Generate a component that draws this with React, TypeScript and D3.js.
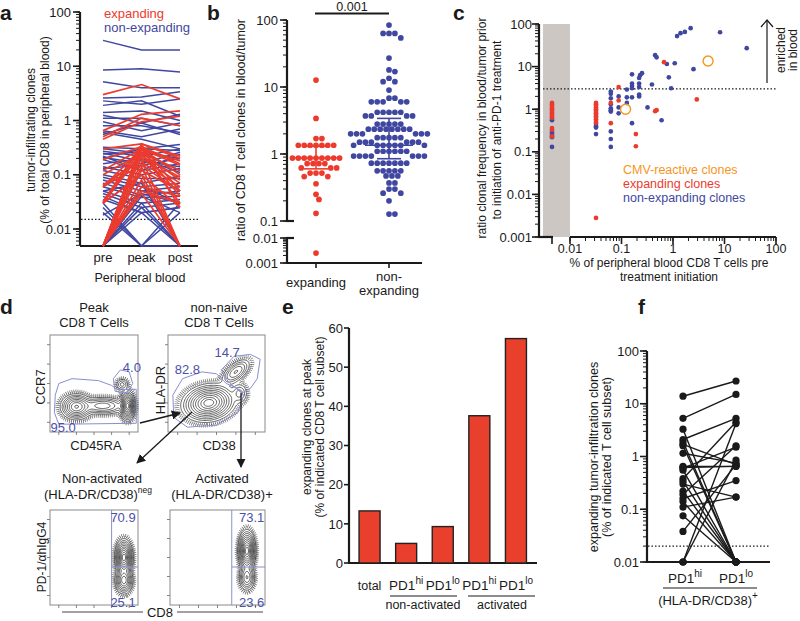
import React from 'react';
import * as d3 from 'd3';

const RED = '#ec3b2d';
const BLUE = '#3f47a0';
const ORANGE = '#f7941d';
const GATE = '#8a8ed0';
const NUMBLUE = '#4b50a8';
const INK = '#1a1a1a';
const FONT = 'Liberation Sans, Arial, Helvetica, sans-serif';

// ---------------- Panel a ----------------
const aTimepoints = ['pre', 'peak', 'post'];
const aTicks = [0.01, 0.1, 1, 10, 100];
const aThreshold = 0.015;
const aLegend = ['expanding', 'non-expanding'];
// [pre, peak, post]; 0 = not detected
const aBlue: number[][] = [
  [30, 20, 20], [8.5, 9, 7.8], [5.2, 4, 4], [2.6, 2.7, 3.4], [2.3, 2.0, 2.5], [1.9, 2.3, 1.2],
  [1.4, 1.5, 1.0], [1.25, 0.9, 1.3], [1.1, 1.1, 0.8], [0.95, 0.65, 0.9], [0.8, 0.8, 0.6],
  [0.65, 0.5, 0.7], [0.55, 0.9, 0.55], [0.32, 0.3, 0.36], [0.27, 0.22, 0.3], [0.24, 0.26, 0.2],
  [0.21, 0.16, 0.26], [0.19, 0.12, 0.16], [0.16, 0.2, 0.11], [0.14, 0.1, 0.13], [0.12, 0.085, 0.085],
  [0.1, 0.07, 0.095], [0.09, 0.06, 0.07], [0.08, 0.05, 0.06], [0.07, 0.042, 0.05], [0.06, 0.038, 0.04],
  [0.05, 0.03, 0.035], [0.045, 0.025, 0.03], [0.035, 0.02, 0.025], [0.03, 0, 0.02], [0, 0.03, 0],
  [0, 0.02, 0.025], [0.02, 0, 0.03], [0, 0.04, 0.02], [0.025, 0, 0], [0, 0.025, 0], [0.04, 0.02, 0],
  [0, 0.05, 0.045], [0.05, 0.07, 0], [0.22, 0.12, 0.24], [0.13, 0.15, 0.2], [0.6, 0.45, 0.3],
  [0.3, 0.25, 0.12], [0.018, 0.045, 0.03], [0, 0.06, 0.03], [0.2, 0.3, 0.28], [0.25, 0.18, 0.14],
];
const aRed: number[][] = [
  [3, 4.6, 2.5], [0.65, 1.3, 1.5], [0.5, 1.1, 0.8], [0.45, 0.95, 1.2], [0.3, 0.37, 0.22],
  [0.19, 0.33, 0.16], [0.12, 0.3, 0.1], [0.1, 0.25, 0.08], [0.065, 0.2, 0.07], [0.06, 0.15, 0.05],
  [0.06, 0.3, 0.04], [0.032, 0.35, 0.05], [0.03, 0.25, 0.03], [0.03, 0.1, 0.025], [0, 0.37, 0.2],
  [0, 0.3, 0.15], [0, 0.26, 0.12], [0, 0.22, 0.09], [0, 0.17, 0.06], [0, 0.12, 0.05], [0, 0.08, 0],
  [0, 0.06, 0.04], [0, 0.05, 0.03], [0, 0.32, 0.025], [0, 0.14, 0], [0.06, 0.2, 0], [0.03, 0.1, 0],
  [0.03, 0.3, 0.18], [0, 0.045, 0],
];

// ---------------- Panel b ----------------
const bGroups = ['expanding', 'non-expanding'];
const bTicksUpper = [0.1, 1, 10, 100];
const bTicksLower = [0.001, 0.01];
const bPValue = '0.001';
const bExpanding = [
  12.7, 3.4, 1.7, 1.7, 1.35, 1.35, 1.35, 1.35, 1.35, 1.35, 1.35, 0.87, 0.87, 0.87, 0.87, 0.87, 0.87,
  0.87, 0.87, 0.87, 0.72, 0.72, 0.72, 0.72, 0.62, 0.62, 0.62, 0.52, 0.52, 0.52, 0.46, 0.46, 0.36,
  0.25, 0.21, 0.13, 0.0025,
];
const bNonExpanding = [
  84, 63, 63, 63, 54, 27, 18, 17, 13.5, 12, 12, 9, 6.8, 6.8, 6, 6, 6, 6, 6, 4.2, 4.2, 4.2, 4.2, 4.2,
  3.7, 3.7, 3.7, 3.7, 2.8, 2.8, 2.8, 2.8, 2.8, 2.35, 2.35, 2.35, 2.35, 2.35, 2.35, 2.35, 2.35,
  2.0, 2.0, 2.0, 2.0, 2.0, 2.0, 1.75, 1.75, 1.75, 1.75, 1.75, 1.5, 1.5, 1.5, 1.5, 1.5, 1.5,
  1.35, 1.35, 1.35, 1.35, 1.35, 1.35, 1.35, 1.1, 1.1, 1.1, 1.1, 1.1, 1.1, 0.93, 0.93, 0.93, 0.93,
  0.93, 0.93, 0.93, 0.73, 0.73, 0.73, 0.73, 0.73, 0.73, 0.73, 0.56, 0.56, 0.56, 0.56, 0.56, 0.47,
  0.47, 0.47, 0.37, 0.37, 0.3, 0.3, 0.26, 0.26, 0.2, 0.127, 0.127,
];
// [q1, median, q3]
const bSummary = [
  [0.6, 0.87, 1.3],
  [0.85, 1.35, 3.4],
];

// ---------------- Panel c ----------------
const cXTicks = [0.01, 0.1, 1, 10, 100];
const cYTicks = [0.001, 0.01, 0.1, 1, 10, 100];
const cThreshold = 3;
const cLegend = ['CMV-reactive clones', 'expanding clones', 'non-expanding clones'];
// [pre-treatment % of blood CD8 (0 = not detected), blood/tumor ratio]
const cBlue: number[][] = [
  [0, 0.6], [0, 0.55], [0, 0.3], [0, 0.27], [0, 0.24], [0, 0.22], [0, 0.13],
  [0.032, 0.45], [0.032, 0.4], [0.032, 0.37], [0.032, 0.26],
  [0.062, 2.6], [0.062, 2.3], [0.062, 1.8], [0.062, 1.3], [0.062, 1.05], [0.062, 0.95], [0.062, 0.88],
  [0.062, 0.3], [0.062, 0.2], [0.062, 0.13],
  [0.088, 2.0], [0.088, 1.1], [0.088, 0.8], [0.127, 2.9], [0.127, 1.9], [0.127, 1.4],
  [0.16, 6.6], [0.16, 4.0], [0.16, 3.5], [0.16, 3.1], [0.16, 1.9], [0.16, 0.47],
  [0.22, 5.4], [0.23, 6.3], [0.25, 7.0], [0.22, 4.0], [0.22, 3.3], [0.22, 2.0], [0.22, 2.2],
  [0.39, 3.8], [0.32, 1.1], [0.45, 18.5], [0.48, 16.5], [0.6, 0.55], [0.76, 11.5], [0.83, 5.6],
  [0.92, 3.1], [1.08, 12], [1.2, 52], [1.4, 61], [1.7, 65], [2.2, 80], [2.5, 8.7], [8.2, 64], [27, 27],
];
const cRed: number[][] = [
  [0, 1.4], [0, 1.3], [0, 1.2], [0, 1.1], [0, 1.0], [0, 0.93], [0, 0.86], [0, 0.8], [0, 0.74],
  [0, 0.68], [0, 0.63], [0, 0.36], [0, 0.33], [0, 0.23],
  [0.032, 1.4], [0.032, 1.3], [0.032, 1.2], [0.032, 1.1], [0.032, 1.0], [0.032, 0.93], [0.032, 0.86],
  [0.032, 0.8], [0.032, 0.74], [0.032, 0.68], [0.032, 0.63], [0.032, 0.58], [0.032, 0.53], [0.032, 0.48],
  [0.032, 0.0028], [0.062, 1.4], [0.062, 0.47], [0.088, 3.3], [0.088, 1.6], [0.19, 0.26], [0.19, 0.135],
  [0.45, 0.9], [0.48, 0.95], [0.67, 12.7], [2.9, 1.7],
];
const cCMV: number[][] = [[0.12, 1.0], [4.8, 13.5]];

// ---------------- Panel d (flow cytometry) ----------------
// gaussian populations [cx, cy, sx, sy, rotationDeg, weight] in fractional plot coords
const dPopulations: number[][][] = [
  [[0.3, 0.74, 0.075, 0.055, 0, 1.0], [0.88, 0.73, 0.035, 0.06, 0, 1.6], [0.6, 0.73, 0.12, 0.04, 0, 0.5], [0.82, 0.51, 0.035, 0.03, 0, 0.2]],
  [[0.42, 0.7, 0.11, 0.075, -10, 1.0], [0.7, 0.38, 0.08, 0.04, -40, 0.25], [0.74, 0.6, 0.04, 0.05, 0, 0.12]],
  [[0.84, 0.5, 0.04, 0.075, 0, 1.0], [0.84, 0.74, 0.042, 0.06, 0, 0.55]],
  [[0.81, 0.43, 0.036, 0.085, 0, 1.0], [0.81, 0.71, 0.036, 0.06, 0, 0.35]],
];
const dGates: number[][][][] = [
  [
    [[0.06, 0.62], [0.1, 0.5], [0.25, 0.45], [0.55, 0.47], [0.7, 0.52], [0.76, 0.56], [0.98, 0.56], [0.98, 0.91], [0.1, 0.92], [0.05, 0.8]],
    [[0.72, 0.45], [0.8, 0.36], [0.9, 0.38], [0.94, 0.5], [0.87, 0.6], [0.74, 0.58]],
  ],
  [
    [[0.05, 0.62], [0.15, 0.45], [0.35, 0.38], [0.5, 0.4], [0.6, 0.5], [0.72, 0.55], [0.78, 0.62], [0.72, 0.8], [0.5, 0.93], [0.2, 0.95], [0.06, 0.85]],
    [[0.55, 0.36], [0.68, 0.22], [0.85, 0.2], [0.95, 0.25], [0.92, 0.45], [0.85, 0.55], [0.76, 0.6], [0.62, 0.48]],
  ],
  [[[0.7, 0], [0.7, 1]], [[0.7, 0.6], [1, 0.6]]],
  [[[0.65, 0], [0.65, 1]], [[0.65, 0.6], [1, 0.6]]],
];
const dGateValues = [['95.0', '4.0'], ['82.8', '14.7'], ['70.9', '25.1'], ['73.1', '23.6']];

// ---------------- Panel e ----------------
const eCategories = ['total', 'PD1hi-nonact', 'PD1lo-nonact', 'PD1hi-act', 'PD1lo-act'];
const eValues = [13.3, 5.0, 9.3, 37.6, 57.3];
const eTicks = [0, 10, 20, 30, 40, 50, 60];

// ---------------- Panel f ----------------
const fGroups = ['PD1hi', 'PD1lo'];
const fTicks = [0.01, 0.1, 1, 10, 100];
const fThreshold = 0.02;
const fHi = [13.9, 5.3, 3.3, 2.1, 1.9, 1.7, 1.6, 1.15, 0.65, 0.62, 0.6, 0.55, 0.38, 0.34, 0.3, 0.22, 0.19, 0.16, 0.14, 0.11, 0.075, 0.038, 0, 0, 0];
const fLo = [27, 15, 0, 5.3, 0, 0.7, 0, 0.75, 0.65, 0.65, 1.5, 0, 4.5, 0, 0.17, 0, 1.6, 0.35, 0, 0.17, 0, 0.7, 4.2, 0.85, 0];

// ---------------- helpers ----------------
function logRange(lo: number, hi: number): number[] {
  const out: number[] = [];
  for (let e = Math.floor(Math.log10(lo)) - 1; e <= Math.ceil(Math.log10(hi)); e++) {
    for (let m = 1; m < 10; m++) {
      const v = +(m * Math.pow(10, e)).toPrecision(6);
      if (v >= lo * 0.9999 && v <= hi * 1.0001) out.push(v);
    }
  }
  return out;
}

function swarm(ys: number[], d: number): number[] {
  const order = ys.map((_, i) => i).sort((a, b) => ys[a] - ys[b]);
  const placed: { x: number; y: number }[] = [];
  const xs = new Array(ys.length).fill(0);
  const cands: number[] = [0];
  for (let k = 1; k < 40; k++) { cands.push(k * d * 0.5, -k * d * 0.5); }
  for (const i of order) {
    const y = ys[i];
    for (const c of cands) {
      let ok = true;
      for (const p of placed) {
        const dx = p.x - c, dy = p.y - y;
        if (dx * dx + dy * dy < d * d * 0.98) { ok = false; break; }
      }
      if (ok) { xs[i] = c; placed.push({ x: c, y }); break; }
    }
  }
  return xs;
}

function LogYAxis(props: { scale: (v: number) => number; x: number; lo: number; hi: number; ticks: number[]; fontSize: number; labelGap: number }) {
  const { scale, x, lo, hi, ticks, fontSize, labelGap } = props;
  const minors = logRange(lo, hi);
  return (
    <g>
      {minors.map((v, i) => (
        <line key={'m' + i} x1={x - 4} x2={x} y1={scale(v)} y2={scale(v)} stroke={INK} strokeWidth={1} />
      ))}
      {ticks.map((v, i) => (
        <g key={'t' + i}>
          <line x1={x - 7} x2={x} y1={scale(v)} y2={scale(v)} stroke={INK} strokeWidth={1.6} />
          <text x={x - labelGap} y={scale(v) + fontSize * 0.36} textAnchor="end" fontSize={fontSize}>{String(v)}</text>
        </g>
      ))}
      <line x1={x} x2={x} y1={scale(lo)} y2={scale(hi)} stroke={INK} strokeWidth={2.2} />
    </g>
  );
}

function RotText(props: { x: number; y: number; size: number; children: any; fill?: string }) {
  return (
    <text transform={`translate(${props.x},${props.y}) rotate(-90)`} textAnchor="middle" fontSize={props.size} fill={props.fill || INK}>
      {props.children}
    </text>
  );
}

function FlowPlot(props: { x: number; y: number; w: number; h: number; pops: number[][]; gates: number[][][]; closed: boolean }) {
  const { x, y, w, h, pops, gates, closed } = props;
  const nx = 80, ny = 80;
  const values = new Array(nx * ny).fill(0);
  for (let j = 0; j < ny; j++) {
    for (let i = 0; i < nx; i++) {
      const u = (i + 0.5) / nx, v = (j + 0.5) / ny;
      let s = 0;
      for (const p of pops) {
        const [cx, cy, sx, sy, rot, wt] = p;
        const a = (rot * Math.PI) / 180;
        const dx = u - cx, dy = v - cy;
        const rx = dx * Math.cos(a) + dy * Math.sin(a);
        const ry = -dx * Math.sin(a) + dy * Math.cos(a);
        s += wt * Math.exp(-0.5 * ((rx / sx) ** 2 + (ry / sy) ** 2));
      }
      values[i + j * nx] = s;
    }
  }
  const mx = d3.max(values) as number;
  const levels = [0.03, 0.06, 0.1, 0.16, 0.24, 0.34, 0.46, 0.6, 0.76, 0.9].map((f) => f * mx);
  const rim = [0.008, 0.016].map((f) => f * mx);
  const proj = d3.geoTransform({
    point(px: number, py: number) { (this as any).stream.point(x + (px / nx) * w, y + (py / ny) * h); },
  });
  const path = d3.geoPath(proj as any);
  const cont = d3.contours().size([nx, ny]).thresholds(levels)(values);
  const rims = d3.contours().size([nx, ny]).thresholds(rim)(values);
  const tickFr = [0.1, 0.3, 0.5, 0.7, 0.9];
  return (
    <g>
      <rect x={x} y={y} width={w} height={h} fill="white" stroke="#8a8a8a" strokeWidth={1} />
      {rims.map((c, i) => (
        <path key={'r' + i} d={path(c as any) || ''} fill="none" stroke="#555" strokeWidth={i === 0 ? 3 : 2.2} strokeDasharray="0.7 1.3" opacity={0.85} />
      ))}
      {cont.map((c, i) => (
        <path key={'c' + i} d={path(c as any) || ''} fill="none" stroke="#111" strokeWidth={0.65} />
      ))}
      {gates.map((g, i) => {
        const pts = g.map((p) => [x + p[0] * w, y + p[1] * h]) as [number, number][];
        const line = closed ? d3.line().curve(d3.curveLinearClosed)(pts) : d3.line()(pts);
        return <path key={'g' + i} d={line || ''} fill="none" stroke={GATE} strokeWidth={1} />;
      })}
      {tickFr.map((f, i) => (
        <g key={'tk' + i}>
          <line x1={x - 3} x2={x} y1={y + f * h} y2={y + f * h} stroke="#666" strokeWidth={0.8} />
          <line x1={x + f * w} x2={x + f * w} y1={y + h} y2={y + h + 3} stroke="#666" strokeWidth={0.8} />
        </g>
      ))}
    </g>
  );
}

export default function App() {
  // ---- panel a scales
  const aY = d3.scaleLog().domain([0.00486, 100]).range([246, 12]);
  const aFloor = 0.00486;
  const aYv = (v: number) => aY(v > 0 ? v : aFloor);
  const aX = d3.scalePoint<string>().domain(aTimepoints).range([103, 180]);
  const aLine = (row: number[]) => d3.line<number>().x((_, i) => aX(aTimepoints[i]) as number).y((v) => aYv(v))(row) || '';

  // ---- panel b scales
  const bYU = d3.scaleLog().domain([0.1, 100]).range([221, 20]);
  const bYL = d3.scaleLog().domain([0.001, 0.01]).range([263, 238]);
  const bYv = (v: number) => (v >= 0.1 ? bYU(v) : bYL(v));
  const bX = d3.scalePoint<string>().domain(bGroups).range([316, 389]);
  const bSets = [bExpanding, bNonExpanding];
  const bColors = [RED, BLUE];

  // ---- panel c scales
  const cX = d3.scaleLog().domain([0.01, 100]).range([570, 776]);
  const cXzero = 552;
  const cXv = (v: number) => (v > 0 ? cX(v) : cXzero);
  const cY = d3.scaleLog().domain([0.001, 100]).range([237, 24]);

  // ---- panel e scales
  const eX = d3.scaleBand<string>().domain(eCategories).range([351, 534.5]).paddingInner(0.426).paddingOuter(0.22);
  const eY = d3.scaleLinear().domain([0, 60]).range([563, 328]);

  // ---- panel f scales
  const fY = d3.scaleLog().domain([0.01, 100]).range([562, 351]);
  const fYv = (v: number) => fY(v > 0 ? v : 0.01);
  const fX = d3.scalePoint<string>().domain(fGroups).range([683, 736]);

  const panelLabel = (t: string, x: number, y: number) => (
    <text x={x} y={y} fontSize={21} fontWeight="bold">{t}</text>
  );

  const flowBoxes = [
    { x: 50, y: 335, w: 88, h: 97 },
    { x: 168, y: 335, w: 97, h: 97 },
    { x: 50, y: 510, w: 88, h: 95 },
    { x: 170, y: 510, w: 95, h: 95 },
  ];
  const gateLabelPos = [
    [[0.15, 0.95], [0.93, 0.34]],
    [[0.2, 0.36], [0.61, 0.18]],
    [[0.83, 0.08], [0.83, 0.97]],
    [[0.86, 0.08], [0.86, 0.97]],
  ];

  return (
    <svg width={800} height={621} style={{ position: 'absolute', left: 0, top: 0, background: 'white' }} fontFamily={FONT} fill={INK}>
      <defs>
        <marker id="ah" viewBox="0 0 10 10" refX="9" refY="5" markerWidth="7" markerHeight="7" orient="auto-start-reverse">
          <path d="M0,0 L10,5 L0,10 z" fill={INK} />
        </marker>
      </defs>

      {/* ================= Panel a ================= */}
      {panelLabel('a', 0, 20)}
      <LogYAxis scale={aY} x={80} lo={0.005} hi={100} ticks={aTicks} fontSize={13} labelGap={9} />
      <line x1={80} x2={198} y1={246} y2={246} stroke={INK} strokeWidth={2.2} />
      <line x1={81} x2={200} y1={aY(aThreshold)} y2={aY(aThreshold)} stroke={INK} strokeWidth={1.2} strokeDasharray="1.5 2" />
      {aBlue.map((r, i) => <path key={'ab' + i} d={aLine(r)} fill="none" stroke={BLUE} strokeWidth={1.5} />)}
      {aRed.map((r, i) => <path key={'ar' + i} d={aLine(r)} fill="none" stroke={RED} strokeWidth={1.7} />)}
      {aTimepoints.map((t) => (
        <text key={t} x={aX(t)} y={262} textAnchor="middle" fontSize={13}>{t}</text>
      ))}
      <text x={140} y={282} textAnchor="middle" fontSize={12.5}>Peripheral blood</text>
      <text x={104} y={18} fontSize={13} fill={RED}>{aLegend[0]}</text>
      <text x={104} y={31.5} fontSize={13} fill={BLUE}>{aLegend[1]}</text>
      <RotText x={35} y={130} size={12}>tumor-infiltrating clones</RotText>
      <RotText x={49} y={130} size={12}>(% of total CD8 in peripheral blood)</RotText>

      {/* ================= Panel b ================= */}
      {panelLabel('b', 207, 20)}
      <LogYAxis scale={bYU} x={287} lo={0.1} hi={100} ticks={bTicksUpper} fontSize={13} labelGap={9} />
      <LogYAxis scale={bYL} x={287} lo={0.001} hi={0.01} ticks={bTicksLower} fontSize={13} labelGap={9} />
      <line x1={286} x2={294} y1={221} y2={221} stroke={INK} strokeWidth={2.2} />
      <line x1={286} x2={294} y1={238} y2={238} stroke={INK} strokeWidth={2.2} />
      <line x1={286} x2={422} y1={263} y2={263} stroke={INK} strokeWidth={2.2} />
      {bGroups.map((g) => (
        <line key={g} x1={bX(g)} x2={bX(g)} y1={263} y2={268} stroke={INK} strokeWidth={1.6} />
      ))}
      <text x={316} y={287} textAnchor="middle" fontSize={13}>expanding</text>
      <text x={389} y={281} textAnchor="middle" fontSize={13}>non-</text>
      <text x={389} y={295} textAnchor="middle" fontSize={13}>expanding</text>
      <line x1={315} x2={389} y1={13.5} y2={13.5} stroke={INK} strokeWidth={2} />
      <text x={352} y={10.5} textAnchor="middle" fontSize={12.5}>{bPValue}</text>
      <RotText x={245} y={130} size={12.5}>ratio of CD8 T cell clones in blood/tumor</RotText>
      {bSets.map((set, gi) => {
        const ys = set.map(bYv);
        const xs = swarm(ys, 5.9);
        const cx = bX(bGroups[gi]) as number;
        return (
          <g key={'bs' + gi}>
            {ys.map((y, i) => <circle key={i} cx={cx + xs[i]} cy={y} r={2.85} fill={bColors[gi]} />)}
          </g>
        );
      })}
      {bSummary.map((s, gi) => {
        const cx = bX(bGroups[gi]) as number;
        const c = bColors[gi];
        return (
          <g key={'bsum' + gi} stroke={c} strokeWidth={1.6}>
            <line x1={cx} x2={cx} y1={bYv(s[0])} y2={bYv(s[2])} />
            <line x1={cx - 24} x2={cx + 24} y1={bYv(s[1])} y2={bYv(s[1])} />
            <line x1={cx - 12} x2={cx + 12} y1={bYv(s[0])} y2={bYv(s[0])} />
            <line x1={cx - 12} x2={cx + 12} y1={bYv(s[2])} y2={bYv(s[2])} />
          </g>
        );
      })}

      {/* ================= Panel c ================= */}
      {panelLabel('c', 453, 20)}
      <rect x={543} y={cY(100)} width={cX(0.01) - 543} height={cY(0.001) - cY(100)} fill="#cdc7c4" />
      <LogYAxis scale={cY} x={539} lo={0.001} hi={100} ticks={cYTicks} fontSize={13} labelGap={7} />
      <line x1={538} x2={553} y1={237} y2={237} stroke={INK} strokeWidth={2.2} />
      <line x1={cXzero} x2={cXzero} y1={237} y2={244} stroke={INK} strokeWidth={1.6} />
      <line x1={cX(0.01)} x2={cX(100)} y1={237} y2={237} stroke={INK} strokeWidth={2.2} />
      {logRange(0.01, 100).map((v, i) => (
        <line key={'cxm' + i} x1={cX(v)} x2={cX(v)} y1={237} y2={241} stroke={INK} strokeWidth={1} />
      ))}
      {cXTicks.map((v) => (
        <g key={'cxt' + v}>
          <line x1={cX(v)} x2={cX(v)} y1={237} y2={244} stroke={INK} strokeWidth={1.6} />
          <text x={cX(v)} y={253} textAnchor="middle" fontSize={12.5}>{String(v)}</text>
        </g>
      ))}
      <line x1={543} x2={776} y1={cY(cThreshold)} y2={cY(cThreshold)} stroke={INK} strokeWidth={1.2} strokeDasharray="1.5 2" />
      {cBlue.map((p, i) => <circle key={'cb' + i} cx={cXv(p[0])} cy={cY(p[1])} r={2.35} fill={BLUE} />)}
      {cRed.map((p, i) => <circle key={'cr' + i} cx={cXv(p[0])} cy={cY(p[1])} r={2.35} fill={RED} />)}
      {cCMV.map((p, i) => <circle key={'co' + i} cx={cXv(p[0])} cy={cY(p[1])} r={5} fill="none" stroke={ORANGE} strokeWidth={1.4} />)}
      <text x={623} y={174} fontSize={12.5} fill={ORANGE}>{cLegend[0]}</text>
      <text x={623} y={188} fontSize={12.5} fill={RED}>{cLegend[1]}</text>
      <text x={623} y={202} fontSize={12.5} fill={BLUE}>{cLegend[2]}</text>
      <RotText x={486} y={128} size={12}>ratio clonal frequency in blood/tumor prior</RotText>
      <RotText x={501} y={130} size={12}>to initiation of anti-PD-1 treatment</RotText>
      <text x={669} y={267} textAnchor="middle" fontSize={12}>% of peripheral blood CD8 T cells pre</text>
      <text x={669} y={281} textAnchor="middle" fontSize={12}>treatment initiation</text>
      <line x1={767} x2={767} y1={83} y2={20} stroke={INK} strokeWidth={1.2} />
      <path d="M761,27 L767,20 L773,27" fill="none" stroke={INK} strokeWidth={1.2} />
      <RotText x={785} y={50} size={12}>enriched</RotText>
      <RotText x={797} y={50} size={12}>in blood</RotText>

      {/* ================= Panel d ================= */}
      {panelLabel('d', 0, 314)}
      <text x={94} y={312} textAnchor="middle" fontSize={13}>Peak</text>
      <text x={94} y={327} textAnchor="middle" fontSize={13}>CD8 T Cells</text>
      <text x={219} y={312} textAnchor="middle" fontSize={13}>non-naive</text>
      <text x={219} y={327} textAnchor="middle" fontSize={13}>CD8 T Cells</text>
      {flowBoxes.map((b, i) => (
        <FlowPlot key={'fp' + i} x={b.x} y={b.y} w={b.w} h={b.h} pops={dPopulations[i]} gates={dGates[i]} closed={i < 2} />
      ))}
      {flowBoxes.map((b, i) => (
        <g key={'gl' + i}>
          {dGateValues[i].map((t, k) => (
            <text key={k} x={b.x + gateLabelPos[i][k][0] * b.w} y={b.y + gateLabelPos[i][k][1] * b.h + 4.5} textAnchor="middle" fontSize={13} fill={NUMBLUE}>{t}</text>
          ))}
        </g>
      ))}
      <RotText x={45} y={387} size={13}>CCR7</RotText>
      <RotText x={165} y={390} size={13}>HLA-DR</RotText>
      <text x={96} y={450} textAnchor="middle" fontSize={13}>CD45RA</text>
      <text x={219} y={450} textAnchor="middle" fontSize={13}>CD38</text>
      <line x1={140} y1={423} x2={180} y2={413} stroke={INK} strokeWidth={1.3} markerEnd="url(#ah)" />
      <line x1={192} y1={412} x2={137} y2={463} stroke={INK} strokeWidth={1.3} markerEnd="url(#ah)" />
      <line x1={241} y1={393} x2={241} y2={467} stroke={INK} strokeWidth={1.3} markerEnd="url(#ah)" />
      <text x={102} y={483} textAnchor="middle" fontSize={13}>Non-activated</text>
      <text x={98} y={499} textAnchor="middle" fontSize={13}>(HLA-DR/CD38)<tspan dy={-6} fontSize={8.5}>neg</tspan></text>
      <text x={222} y={483} textAnchor="middle" fontSize={13}>Activated</text>
      <text x={222} y={499} textAnchor="middle" fontSize={13}>(HLA-DR/CD38)+</text>
      <RotText x={46} y={557} size={12}>PD-1/αhIgG4</RotText>
      <line x1={62} x2={143} y1={612} y2={612} stroke="#444" strokeWidth={1} />
      <line x1={177} x2={263} y1={612} y2={612} stroke="#444" strokeWidth={1} />
      <text x={160} y={617} textAnchor="middle" fontSize={13}>CD8</text>

      {/* ================= Panel e ================= */}
      {panelLabel('e', 282, 314)}
      {eTicks.map((t) => (
        <g key={'et' + t}>
          <line x1={344} x2={349} y1={eY(t)} y2={eY(t)} stroke={INK} strokeWidth={1.6} />
          <text x={343} y={eY(t) + 4.7} textAnchor="end" fontSize={13}>{String(t)}</text>
        </g>
      ))}
      <line x1={349} x2={349} y1={eY(0)} y2={eY(60)} stroke={INK} strokeWidth={2.2} />
      <line x1={348} x2={537} y1={eY(0)} y2={eY(0)} stroke={INK} strokeWidth={2.2} />
      {eCategories.map((c, i) => (
        <rect key={c} x={eX(c)} y={eY(eValues[i])} width={eX.bandwidth()} height={eY(0) - eY(eValues[i])} fill="#e8402c" stroke="#222" strokeWidth={1.4} />
      ))}
      {eCategories.map((c, i) => {
        const cx = (eX(c) as number) + eX.bandwidth() / 2;
        if (i === 0) return <text key={'el' + i} x={cx} y={590} textAnchor="middle" fontSize={12.5}>total</text>;
        const sup = i % 2 === 1 ? 'hi' : 'lo';
        return (
          <text key={'el' + i} x={cx} y={590} textAnchor="middle" fontSize={13.5}>PD1<tspan dy={-6} fontSize={10}>{sup}</tspan></text>
        );
      })}
      <line x1={390} x2={457} y1={596} y2={596} stroke={INK} strokeWidth={1.2} />
      <line x1={468} x2={535} y1={596} y2={596} stroke={INK} strokeWidth={1.2} />
      <text x={423} y={609} textAnchor="middle" fontSize={12.5}>non-activated</text>
      <text x={502} y={609} textAnchor="middle" fontSize={12.5}>activated</text>
      <RotText x={311} y={427} size={12}>expanding clones at peak</RotText>
      <RotText x={324} y={427} size={12}>(% of indicated CD8 T cell subset)</RotText>

      {/* ================= Panel f ================= */}
      {panelLabel('f', 638, 314)}
      <LogYAxis scale={fY} x={647} lo={0.01} hi={100} ticks={fTicks} fontSize={13} labelGap={8} />
      <line x1={646} x2={770} y1={562} y2={562} stroke={INK} strokeWidth={2.2} />
      <line x1={648} x2={770} y1={fY(fThreshold)} y2={fY(fThreshold)} stroke={INK} strokeWidth={1.2} strokeDasharray="1.5 2" />
      {fHi.map((h, i) => (
        <line key={'fl' + i} x1={fX('PD1hi')} x2={fX('PD1lo')} y1={fYv(h)} y2={fYv(fLo[i])} stroke={INK} strokeWidth={1.4} />
      ))}
      {fHi.map((h, i) => <circle key={'fh' + i} cx={fX('PD1hi')} cy={fYv(h)} r={3.6} fill={INK} />)}
      {fLo.map((h, i) => <circle key={'fo' + i} cx={fX('PD1lo')} cy={fYv(h)} r={3.6} fill={INK} />)}
      <text x={685} y={583} textAnchor="middle" fontSize={13.5}>PD1<tspan dy={-6} fontSize={10}>hi</tspan></text>
      <text x={736} y={583} textAnchor="middle" fontSize={13.5}>PD1<tspan dy={-6} fontSize={10}>lo</tspan></text>
      <line x1={663} x2={757} y1={588} y2={588} stroke={INK} strokeWidth={1.2} />
      <text x={708} y={605} textAnchor="middle" fontSize={13}>(HLA-DR/CD38)<tspan dy={-6} fontSize={10}>+</tspan></text>
      <RotText x={598} y={457} size={12.5}>expanding tumor-infiltration clones</RotText>
      <RotText x={611} y={457} size={12.5}>(% of indicated T cell subset)</RotText>
    </svg>
  );
}
